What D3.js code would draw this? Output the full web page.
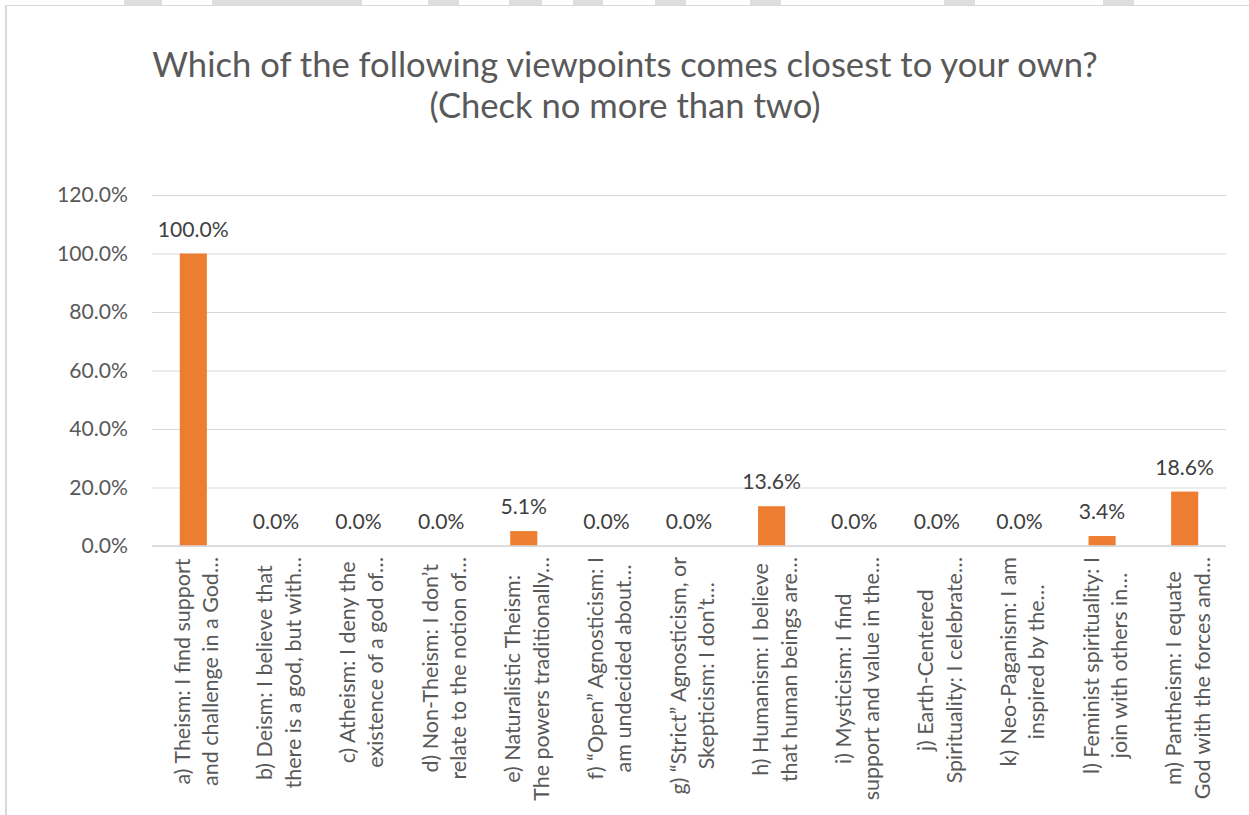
<!DOCTYPE html>
<html>
<head>
<meta charset="utf-8">
<script src="https://cdn.jsdelivr.net/npm/d3@7"></script>
<style>
  html, body { margin: 0; padding: 0; background: #ffffff; }
  svg { display: block; }
</style>
</head>
<body>
<svg id="chart" width="1249" height="815"></svg>
<script>
// Survey question and answer data
const titleLines = [
  "Which of the following viewpoints comes closest to your own?",
  "(Check no more than two)"
];

const categoryLabels = [
  ["a) Theism: I find support", "and challenge in a God…"],
  ["b) Deism: I believe that", "there is a god, but with…"],
  ["c) Atheism: I deny the", "existence of a god of…"],
  ["d) Non-Theism: I don’t", "relate to the notion of…"],
  ["e) Naturalistic Theism:", "The powers traditionally…"],
  ["f) “Open” Agnosticism: I", "am undecided about…"],
  ["g) “Strict” Agnosticism, or", "Skepticism: I don’t…"],
  ["h) Humanism: I believe", "that human beings are…"],
  ["i) Mysticism: I find", "support and value in the…"],
  ["j) Earth-Centered", "Spirituality: I celebrate…"],
  ["k) Neo-Paganism: I am", "inspired by the…"],
  ["l) Feminist spirituality: I", "join with others in…"],
  ["m) Pantheism: I equate", "God with the forces and…"]
];

const percentValues = [100.0, 0.0, 0.0, 0.0, 5.1, 0.0, 0.0, 13.6, 0.0, 0.0, 0.0, 3.4, 18.6];

const yTickValues = [0, 20, 40, 60, 80, 100, 120];

// Light grey band pieces along the very top edge
const topBandPieces = [[124, 162], [212, 362], [428, 459], [509, 542], [573, 603], [655, 686], [750, 781], [944, 975], [1103, 1134]];

const FONT = "Lato, 'Open Sans', sans-serif";
const TEXT_GREY = "#595959";
const LABEL_GREY = "#404040";
const GRID = "#d9d9d9";
const BAR = "#ED7D31";

const svg = d3.select("#chart");

// Pick a font size so that a sample string spans the wanted width
function fitSize(sample, width, weight) {
  const t = svg.append("text")
    .attr("font-family", FONT)
    .attr("font-weight", weight || 400)
    .attr("font-size", 100)
    .text(sample);
  const w = t.node().getComputedTextLength();
  t.remove();
  return 100 * width / w;
}

const titleSize = fitSize(titleLines[0], 946);
const tickSize = fitSize("120.0%", 71);
const valueSize = fitSize("100.0%", 71);
const catSize = fitSize(categoryLabels[0][0], 226);

// Outer frame
svg.append("g").selectAll("rect")
  .data(topBandPieces)
  .join("rect")
  .attr("x", d => d[0])
  .attr("y", 0)
  .attr("width", d => d[1] - d[0])
  .attr("height", 5)
  .attr("fill", "#dedede");

svg.append("line")
  .attr("x1", 5).attr("x2", 1249)
  .attr("y1", 5.5).attr("y2", 5.5)
  .attr("stroke", GRID).attr("stroke-width", 1.2);
svg.append("line")
  .attr("x1", 6).attr("x2", 6)
  .attr("y1", 5).attr("y2", 815)
  .attr("stroke", GRID).attr("stroke-width", 2);

// Title
svg.append("g").selectAll("text")
  .data(titleLines)
  .join("text")
  .attr("x", 625)
  .attr("y", (d, i) => 77 + i * 41)
  .attr("text-anchor", "middle")
  .attr("font-family", FONT)
  .attr("font-size", titleSize)
  .attr("fill", TEXT_GREY)
  .text(d => d);

// Plot area
const plot = { left: 152, right: 1226, top: 195, bottom: 546 };

const keys = categoryLabels.map(d => d.join(" "));

const x = d3.scaleBand()
  .domain(keys)
  .range([plot.left, plot.right])
  .paddingInner(0.672)
  .paddingOuter(0.336);

const y = d3.scaleLinear()
  .domain([0, 120])
  .range([plot.bottom, plot.top]);

// Horizontal gridlines and value axis labels
const yAxis = d3.axisLeft(y)
  .tickValues(yTickValues)
  .tickSize(-(plot.right - plot.left))
  .tickPadding(24)
  .tickFormat(d => d.toFixed(1) + "%");

const yg = svg.append("g")
  .attr("transform", `translate(${plot.left},0)`)
  .call(yAxis);
yg.select(".domain").remove();
yg.selectAll(".tick line").attr("stroke", GRID).attr("stroke-width", 1);
yg.selectAll(".tick text")
  .attr("font-family", FONT)
  .attr("font-size", tickSize)
  .attr("fill", TEXT_GREY);

// Bars
const rows = keys.map((k, i) => ({ key: k, value: percentValues[i], lines: categoryLabels[i] }));

svg.append("g").selectAll("rect")
  .data(rows)
  .join("rect")
  .attr("x", d => x(d.key))
  .attr("y", d => y(d.value))
  .attr("width", x.bandwidth())
  .attr("height", d => y(0) - y(d.value))
  .attr("fill", BAR);

// Category axis line
svg.append("line")
  .attr("x1", plot.left).attr("x2", plot.right)
  .attr("y1", y(0)).attr("y2", y(0))
  .attr("stroke", GRID).attr("stroke-width", 1.5);

// Value labels above bars
svg.append("g").selectAll("text")
  .data(rows)
  .join("text")
  .attr("x", d => x(d.key) + x.bandwidth() / 2)
  .attr("y", d => y(d.value) - 17)
  .attr("text-anchor", "middle")
  .attr("font-family", FONT)
  .attr("font-size", valueSize)
  .attr("fill", LABEL_GREY)
  .text(d => d.value.toFixed(1) + "%");

// Rotated two-line category labels
const catGroups = svg.append("g").selectAll("g")
  .data(rows)
  .join("g")
  .attr("transform", d => `translate(${x(d.key) + x.bandwidth() / 2},557) rotate(-90)`);

catGroups.each(function (d) {
  const g = d3.select(this);
  const texts = g.selectAll("text")
    .data(d.lines)
    .join("text")
    .attr("y", (t, i) => -3.5 + i * 28.4)
    .attr("text-anchor", "middle")
    .attr("font-family", FONT)
    .attr("font-size", catSize)
    .attr("fill", TEXT_GREY)
    .text(t => t);
  let maxLen = 0;
  texts.each(function () { maxLen = Math.max(maxLen, this.getComputedTextLength()); });
  texts.attr("x", -maxLen / 2);
});
</script>
</body>
</html>
